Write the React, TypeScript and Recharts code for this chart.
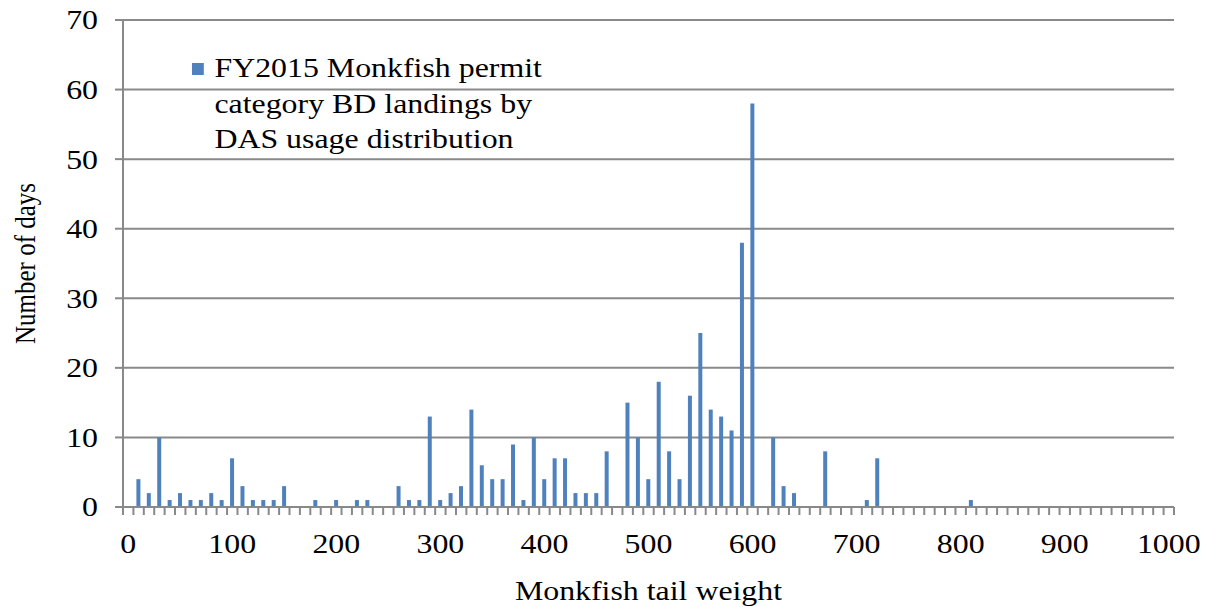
import { Bar, BarChart, CartesianGrid, XAxis, YAxis } from "recharts";

// tail weight categories, 0..1000 in steps of 10
const weights = Array.from({ length: 101 }, (_, i) => i * 10);

// number of days per tail weight bin
const days = [
  0, 4, 2, 10, 1, 2, 1, 1, 2, 1,
  7, 3, 1, 1, 1, 3, 0, 0, 1, 0,
  1, 0, 1, 1, 0, 0, 3, 1, 1, 13,
  1, 2, 3, 14, 6, 4, 4, 9, 1, 10,
  4, 7, 7, 2, 2, 2, 8, 0, 15, 10,
  4, 18, 8, 4, 16, 25, 14, 13, 11, 38,
  58, 0, 10, 3, 2, 0, 0, 8, 0, 0,
  0, 1, 7, 0, 0, 0, 0, 0, 0, 0,
  0, 1, 0, 0, 0, 0, 0, 0, 0, 0,
  0, 0, 0, 0, 0, 0, 0, 0, 0, 0,
  0,
];

const yTicks = [0, 10, 20, 30, 40, 50, 60, 70];
const xLabels = [0, 100, 200, 300, 400, 500, 600, 700, 800, 900, 1000];
const legendLines = [
  "FY2015 Monkfish permit",
  "category BD landings by",
  "DAS usage distribution",
];

const data = weights.map((w, i) => ({ weight: w, days: days[i] }));

const gray = "#898989";
const barColor = "#4F81BD";
const font = '"Liberation Serif", "Times New Roman", serif';
// the source picture is a bit stretched sideways
const sx = 1.18;

const XTick = (props: any) => {
  const { x, y, payload, width } = props;
  const half = payload.offset || width / weights.length / 2;
  const isLast = payload.index === weights.length - 1;
  return (
    <g>
      <line x1={x - half} y1={y} x2={x - half} y2={y + 8} stroke={gray} strokeWidth={2} />
      {isLast && (
        <line x1={x + half} y1={y} x2={x + half} y2={y + 8} stroke={gray} strokeWidth={2} />
      )}
      {xLabels.includes(payload.value) && (
        <text
          transform={`translate(${x},${y + 46}) scale(${sx},1)`}
          textAnchor="middle"
          fontSize={27}
          fill="#000"
          fontFamily={font}
        >
          {payload.value}
        </text>
      )}
    </g>
  );
};

const YTick = (props: any) => {
  const { x, y, payload } = props;
  return (
    <text
      transform={`translate(${x},${y}) scale(${sx},1)`}
      textAnchor="end"
      dy="0.35em"
      fontSize={27}
      fill="#000"
      fontFamily={font}
    >
      {payload.value}
    </text>
  );
};

const XTitle = (props: any) => {
  const { viewBox } = props;
  const cx = viewBox.x + viewBox.width / 2;
  const by = viewBox.y + viewBox.height - 7;
  return (
    <text
      transform={`translate(${cx},${by}) scale(${sx},1)`}
      textAnchor="middle"
      fontSize={27}
      fill="#000"
      fontFamily={font}
    >
      Monkfish tail weight
    </text>
  );
};

const YTitle = (props: any) => {
  const { viewBox } = props;
  const bx = viewBox.x + 35;
  const cy = viewBox.y + viewBox.height / 2;
  return (
    <text
      transform={`translate(${bx},${cy}) scale(${sx},1) rotate(-90)`}
      textAnchor="middle"
      fontSize={25}
      fill="#000"
      fontFamily={font}
    >
      Number of days
    </text>
  );
};

const App = () => {
  return (
    <div
      style={{
        position: "absolute",
        left: 0,
        top: 0,
        width: 1207,
        height: 607,
        background: "#fff",
        fontFamily: font,
      }}
    >
      <BarChart
        width={1207}
        height={607}
        data={data}
        margin={{ top: 20, right: 33, left: 0, bottom: 0 }}
      >
        <CartesianGrid vertical={false} stroke={gray} strokeWidth={2} />
        <XAxis
          dataKey="weight"
          interval={0}
          height={100}
          stroke={gray}
          strokeWidth={2}
          tickLine={false}
          tickSize={0}
          tickMargin={0}
          tick={<XTick />}
          label={<XTitle />}
        />
        <YAxis
          width={123}
          domain={[0, 70]}
          ticks={yTicks}
          interval={0}
          stroke={gray}
          strokeWidth={2}
          tickSize={8}
          tickMargin={17}
          tick={<YTick />}
          label={<YTitle />}
        />
        <Bar dataKey="days" fill={barColor} barSize={4} isAnimationActive={false} />
      </BarChart>
      <div
        style={{
          position: "absolute",
          left: 192,
          top: 51,
          fontSize: 27,
          lineHeight: "35.5px",
          color: "#000",
          transform: `scaleX(${sx})`,
          transformOrigin: "left top",
        }}
      >
        {legendLines.map((line, i) => (
          <div key={i} style={{ position: "relative", paddingLeft: 19, whiteSpace: "nowrap" }}>
            {i === 0 && (
              <span
                style={{
                  position: "absolute",
                  left: 0,
                  top: 12,
                  width: 10,
                  height: 12,
                  background: barColor,
                }}
              />
            )}
            {line}
          </div>
        ))}
      </div>
    </div>
  );
};

export default App;
